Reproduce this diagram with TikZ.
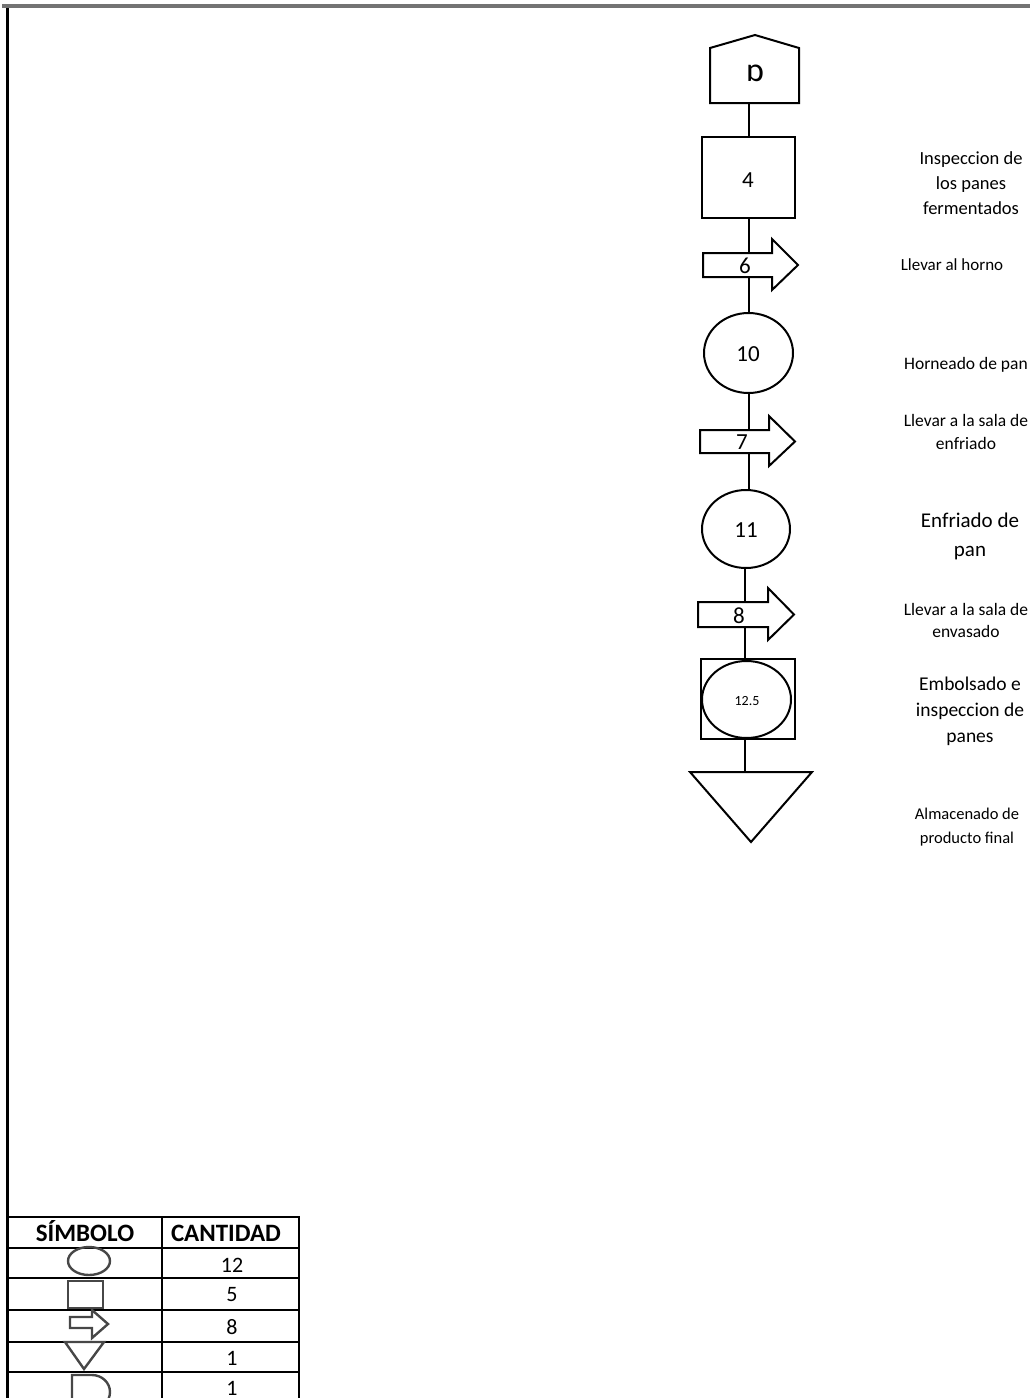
\documentclass[tikz,border=0pt]{standalone}
\usepackage{fontspec}
\setmainfont{Carlito}
\usetikzlibrary{shapes.geometric,calc}
\pgfdeclarelayer{bg}
\pgfsetlayers{bg,main}
\tikzset{
  shp/.style={draw=black, line width=2pt, fill=white},
  conn/.style={draw=black, line width=2pt},
  boxnode/.style={inner sep=0pt, outer sep=0pt},
  numtxt/.style={inner sep=0pt, font=\fontsize{23}{26}\selectfont},
  lbl/.style={inner sep=0pt, align=center},
  leg/.style={draw=black!72, line width=2.4pt},
  grid/.style={draw=black, line width=2pt},
}
\newcommand\drawflowarrow[1]{%
  \draw[shp] (#1.north west) -- (#1.north east) -- ++(0,-14) --
    ($(#1.east)+(26,0)$) -- ($(#1.south east)+(0,13)$) --
    (#1.south east) -- (#1.south west) -- cycle;}
\begin{document}
\begin{tikzpicture}[x=1pt,y=-1pt]
\useasboundingbox (0,0) rectangle (1030,1398);
% frame
\fill[black!55] (2,4) rectangle (1030,8);
\draw[black, line width=3pt] (7.5,8) -- (7.5,1400);

% ---- flow nodes (shapes) ----
\node[boxnode, minimum width=89pt, minimum height=55pt] (op0) at (754.5,75.5) {};
\coordinate (op0top) at (755,35);
\draw[shp] (op0.south west) -- (op0.north west) -- (op0top) -- (op0.north east) -- (op0.south east) -- cycle;
\node[inner sep=0pt, font=\fontsize{34}{36}\selectfont] (t0) at (755,73) {ɒ};

\node[shp, boxnode, minimum width=93pt, minimum height=81pt] (op1) at (748.5,177.5) {};
\node[numtxt] (t1) at (748,180) {4};

\node[boxnode, minimum width=69pt, minimum height=24pt] (tr1) at (737.5,265) {};
\drawflowarrow{tr1}
\node[numtxt] (t2) at (745,266) {6};

\node[shp, boxnode, ellipse, minimum width=89pt, minimum height=80pt] (op2) at (748.5,353) {};
\node[numtxt] (t3) at (748,354) {10};

\node[boxnode, minimum width=69pt, minimum height=23pt] (tr2) at (734.5,441.5) {};
\drawflowarrow{tr2}
\node[numtxt] (t4) at (742,442) {7};

\node[shp, boxnode, ellipse, minimum width=88pt, minimum height=78pt] (op3) at (746,529) {};
\node[numtxt] (t5) at (746,530) {11};

\node[boxnode, minimum width=70pt, minimum height=25pt] (tr3) at (733,614.5) {};
\drawflowarrow{tr3}
\node[numtxt] (t6) at (739,616) {8};

\node[shp, boxnode, minimum width=94pt, minimum height=80pt] (op4) at (748,699) {};
\node[shp, boxnode, ellipse, minimum width=89pt, minimum height=77pt] (op4c) at (746.5,699.5) {};
\node[inner sep=0pt, font=\fontsize{14}{16}\selectfont] (t7) at (747,701) {12.5};

\node[boxnode, minimum width=122pt, minimum height=70pt] (st) at (751,807) {};
\draw[shp] (st.north west) -- (st.north east) -- (st.south) -- cycle;

% ---- connectors ----
\begin{pgfonlayer}{bg}
\draw[conn] (op1.north |- op0.south) -- (op1.north);
\draw[conn] (op1.south) -- (op1.south |- op2.north);
\draw[conn] (op2.south) -- (op2.south |- op3.north);
\draw[conn] ($(op3.south)+(-1,0)$) -- ($(op3.south |- op4.north)+(-1,0)$);
\draw[conn] ($(op4.south)+(-3,0)$) -- ($(op4.south |- st.north)+(-3,0)$);
\end{pgfonlayer}

% ---- labels ----
\node[lbl, font=\fontsize{18.5}{25}\selectfont] (l1) at (971,183) {Inspeccion de\\los panes\\fermentados};
\node[lbl, font=\fontsize{17}{20}\selectfont] (l2) at (952,265) {Llevar al horno};
\node[lbl, font=\fontsize{17.5}{20}\selectfont] (l3) at (966,365) {Horneado de pan};
\node[lbl, font=\fontsize{17.5}{23}\selectfont] (l4) at (966,432) {Llevar a la sala de\\enfriado};
\node[lbl, font=\fontsize{21}{29}\selectfont] (l5) at (970,536) {Enfriado de\\pan};
\node[lbl, font=\fontsize{17.5}{22}\selectfont] (l6) at (966,620) {Llevar a la sala de\\envasado};
\node[lbl, font=\fontsize{19.5}{26}\selectfont] (l7) at (970,711) {Embolsado e\\inspeccion de\\panes};
\node[lbl, font=\fontsize{16.5}{24}\selectfont] (l8) at (967,827) {Almacenado de\\producto final};

% ---- legend table ----
\foreach \yy in {1217,1248,1278,1310,1342,1372} \draw[grid] (8,\yy) -- (299,\yy);
\foreach \xx in {8,162,299} \draw[grid] (\xx,1216) -- (\xx,1400);
\node[inner sep=0pt, anchor=base, font=\bfseries\fontsize{25}{28}\selectfont] (h1) at (85,1241) {SÍMBOLO};
\node[inner sep=0pt, anchor=base, font=\bfseries\fontsize{25}{28}\selectfont] (h2) at (226,1241) {CANTIDAD};
\draw[leg] (89,1261) ellipse [x radius=21, y radius=14];
\draw[leg] (68,1281) rectangle (103,1308);
\draw[leg] (70,1317) -- (92,1317) -- (92,1310) -- (108,1324) -- (92,1338) -- (92,1328) -- (70,1328) -- cycle;
\draw[leg] (65,1342) -- (104,1342) -- (84,1369) -- cycle;
\draw[leg] (72,1412) -- (72,1375) -- (92,1375) arc[start angle=-90, end angle=90, x radius=18, y radius=17] -- (72,1409);
\node[numtxt, font=\fontsize{22}{24}\selectfont] (c1) at (232,1265) {12};
\node[numtxt, font=\fontsize{22}{24}\selectfont] (c2) at (232,1295) {5};
\node[numtxt, font=\fontsize{22}{24}\selectfont] (c3) at (232,1327) {8};
\node[numtxt, font=\fontsize{22}{24}\selectfont] (c4) at (232,1358) {1};
\node[numtxt, font=\fontsize{22}{24}\selectfont] (c5) at (232,1388) {1};
\end{tikzpicture}
\end{document}
